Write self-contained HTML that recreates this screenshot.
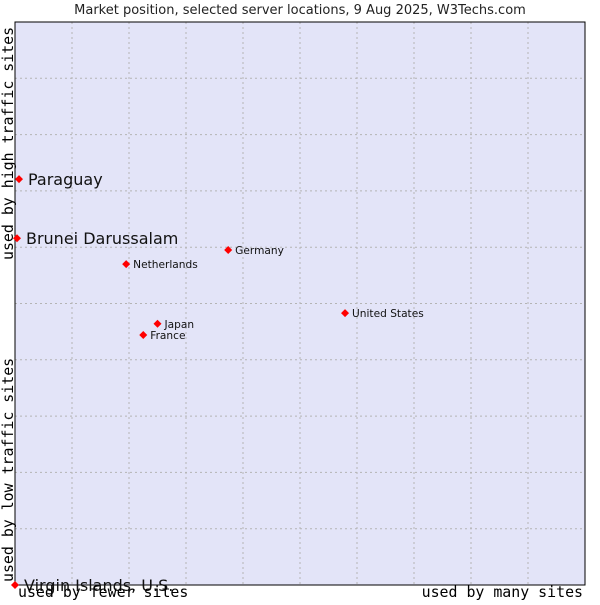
<!DOCTYPE html>
<html><head><meta charset="utf-8"><style>
body{margin:0;background:#fff;width:600px;height:600px;overflow:hidden}
svg text{font-family:"DejaVu Sans","Liberation Sans",sans-serif}
.mono{font-family:"DejaVu Sans Mono","Liberation Mono",monospace}
</style></head><body>
<svg id="chart" width="600" height="600" xmlns="http://www.w3.org/2000/svg">
<text x="300" y="14" font-size="13" text-anchor="middle" fill="#222">Market position, selected server locations, 9 Aug 2025, W3Techs.com</text>
<rect x="15" y="22" width="570" height="563" fill="#e3e4f8"/>
<g id="grid"></g>
<rect x="15" y="22" width="570" height="563" fill="none" stroke="#000" stroke-width="1"/>
<g id="pts"></g>
<text class="mono" x="18" y="597" font-size="14.9" fill="#000">used by fewer sites</text>
<text class="mono" x="583" y="597" font-size="14.9" text-anchor="end" fill="#000">used by many sites</text>
<text class="mono" transform="translate(13,582) rotate(-90)" font-size="14.9" fill="#000">used by low traffic sites</text>
<text class="mono" transform="translate(13,260) rotate(-90)" font-size="14.9" fill="#000">used by high traffic sites</text>
</svg>
<script>
const names=["Paraguay","Brunei Darussalam","Netherlands","Germany","United States","Japan","France","Virgin Islands, U.S."];
const xVals=[0.7,0.35,19.5,37.4,57.9,25,22.5,0];
const yVals=[72.1,61.6,57,59.5,48.3,46.4,44.4,0];
const big=[true,true,false,false,false,false,false,true];
const NS="http://www.w3.org/2000/svg";
const X0=15,W=570,Y0=585,H=563;
const sx=v=>X0+v/100*W, sy=v=>Y0-v/100*H;
const grid=document.getElementById('grid');
for(let i=1;i<10;i++){
 const a=document.createElementNS(NS,'line');
 
 
 a.setAttribute('x1',sx(i*10));a.setAttribute('x2',sx(i*10));a.setAttribute('y1',22);a.setAttribute('y2',585);
 a.setAttribute('stroke','#b4b4b4');a.setAttribute('stroke-dasharray','2,3');grid.appendChild(a);
 const b=document.createElementNS(NS,'line');
 
 
 b.setAttribute('y1',sy(i*10));b.setAttribute('y2',sy(i*10));b.setAttribute('x1',15);b.setAttribute('x2',585);
 b.setAttribute('stroke','#b4b4b4');b.setAttribute('stroke-dasharray','2,3');grid.appendChild(b);
}
const pts=document.getElementById('pts');
names.forEach((n,i)=>{
 const x=sx(xVals[i]),y=sy(yVals[i]);
 const d=document.createElementNS(NS,'path');
 
 
 d.setAttribute('d',`M${x-4},${y}L${x},${y-4}L${x+4},${y}L${x},${y+4}Z`);
 d.setAttribute('fill','#f00');pts.appendChild(d);
 const t=document.createElementNS(NS,'text');
 
 
 t.setAttribute('x',x+(big[i]?9:7));t.setAttribute('y',y+(big[i]?6:4));
 t.setAttribute('font-size',big[i]?16:10.6);t.setAttribute('fill','#111');
 t.textContent=n;pts.appendChild(t);
});
</script>
</body></html>
